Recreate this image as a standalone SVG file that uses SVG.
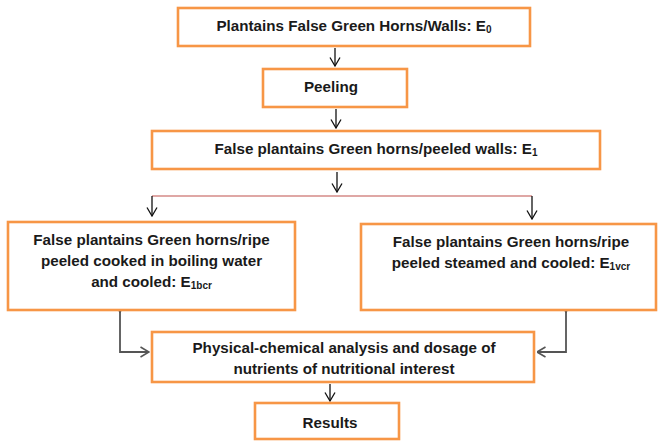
<svg xmlns="http://www.w3.org/2000/svg" width="658" height="441" viewBox="0 0 658 441">
<defs>
<marker id="ah" viewBox="0 0 10 12" refX="9.5" refY="6" markerWidth="10" markerHeight="12" markerUnits="userSpaceOnUse" orient="auto">
<path d="M1,1 L9.5,6 L1,11" fill="none" stroke="#111" stroke-width="1.3"/>
</marker>
<marker id="ahg" viewBox="0 0 10 12" refX="9.5" refY="6" markerWidth="10" markerHeight="12" markerUnits="userSpaceOnUse" orient="auto">
<path d="M1,1 L9.5,6 L1,11" fill="none" stroke="#555" stroke-width="1.6"/>
</marker>
</defs>
<style>
.box{fill:#fff;stroke:#F79646;stroke-width:2.6}
.t{font-family:"Liberation Sans",Arial,sans-serif;font-weight:bold;font-size:15.2px;fill:#1a1a1a;text-anchor:middle}
.s{font-size:10px}
.a{fill:none;stroke:#111;stroke-width:1.3;marker-end:url(#ah)}
.g{fill:none;stroke:#555;stroke-width:1.8}
</style>
<rect width="658" height="441" fill="#fff"/>
<g id="connectors">
<line class="a" x1="335" y1="48" x2="335" y2="66"/>
<line class="a" x1="336" y1="109" x2="336" y2="128"/>
<line class="a" x1="337" y1="172" x2="337" y2="192"/>
<line x1="152" y1="196" x2="532" y2="196" stroke="#C0504D" stroke-width="1.2"/>
<line class="a" x1="152" y1="196" x2="152" y2="216"/>
<line class="a" x1="532" y1="196" x2="532" y2="219"/>
<path class="g" d="M120,312 L120,352 L149,352" marker-start="url(#ahg)" marker-end="url(#ahg)"/>
<path class="g" d="M566,312 L566,352 L537,352" marker-start="url(#ahg)" marker-end="url(#ahg)"/>
<line class="a" x1="330" y1="384" x2="330" y2="401"/>
</g>
<g id="e0">
<rect class="box" x="178" y="8" width="352" height="38"/>
<text class="t" x="354" y="31">Plantains False Green Horns/Walls: E<tspan class="s" dy="2">0</tspan></text>
</g>
<g id="peeling">
<rect class="box" x="263" y="69" width="144" height="38"/>
<text class="t" x="331" y="92">Peeling</text>
</g>
<g id="e1">
<rect class="box" x="152" y="131" width="448" height="38"/>
<text class="t" x="376" y="154">False plantains Green horns/peeled walls: E<tspan class="s" dy="2">1</tspan></text>
</g>
<g id="e1bcr">
<rect class="box" x="8" y="222" width="287" height="88"/>
<text class="t" x="151.5" y="245">False plantains Green horns/ripe</text>
<text class="t" x="151.5" y="266">peeled cooked in boiling water</text>
<text class="t" x="151.5" y="287">and cooled: E<tspan class="s" dy="2">1bcr</tspan></text>
</g>
<g id="e1vcr">
<rect class="box" x="361" y="224" width="295" height="86"/>
<text class="t" x="511" y="247">False plantains Green horns/ripe</text>
<text class="t" x="511" y="268">peeled steamed and cooled: E<tspan class="s" dy="2">1vcr</tspan></text>
</g>
<g id="analysis">
<rect class="box" x="152" y="332" width="382" height="50"/>
<text class="t" x="344" y="353">Physical-chemical analysis and dosage of</text>
<text class="t" x="344" y="374">nutrients of nutritional interest</text>
</g>
<g id="results">
<rect class="box" x="255" y="403" width="144" height="36"/>
<text class="t" x="330" y="428">Results</text>
</g>
</svg>
